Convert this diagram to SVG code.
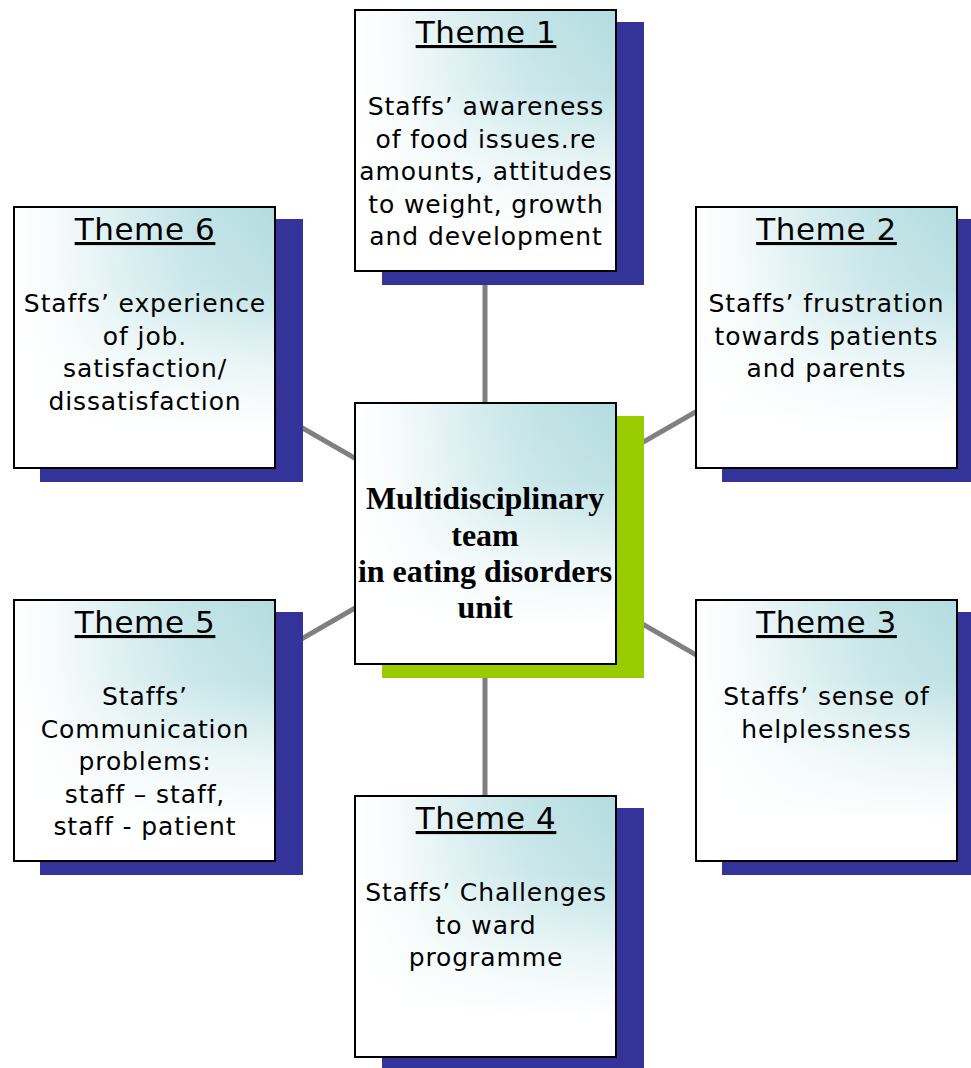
<svg xmlns="http://www.w3.org/2000/svg" width="971" height="1068" viewBox="0 0 971 1068">
<defs>
<linearGradient id="gh" x1="0" y1="0" x2="1" y2="0">
<stop offset="0" stop-color="#ffffff"/>
<stop offset="0.15" stop-color="#f7fbfc"/>
<stop offset="0.45" stop-color="#d6edef"/>
<stop offset="0.7" stop-color="#c1e3e6"/>
<stop offset="1" stop-color="#b3dce0"/>
</linearGradient>
<linearGradient id="gv" x1="0" y1="0" x2="0" y2="1">
<stop offset="0" stop-color="#ffffff" stop-opacity="0"/>
<stop offset="0.3" stop-color="#ffffff" stop-opacity="0.15"/>
<stop offset="0.6" stop-color="#ffffff" stop-opacity="0.7"/>
<stop offset="0.85" stop-color="#ffffff" stop-opacity="1"/>
<stop offset="1" stop-color="#ffffff" stop-opacity="1"/>
</linearGradient>
<style>
.sh{fill:#333399}
.gs{fill:#99cc00}
.f1{fill:url(#gh)}
.f2{fill:url(#gv)}
.bx{fill:none;stroke:#000;stroke-width:2}
.ti{font-family:"DejaVu Sans",Verdana,sans-serif;font-size:31px;letter-spacing:0.6px;text-anchor:middle;text-decoration:underline;fill:#000}
.bd{font-family:"DejaVu Sans",Verdana,sans-serif;font-size:25px;letter-spacing:0.9px;text-anchor:middle;fill:#000}
.ct{font-family:"Liberation Serif","Times New Roman",serif;font-size:32px;font-weight:bold;text-anchor:middle;fill:#000}
.cn{stroke:#808080;stroke-width:5;fill:none}
</style>
</defs>
<g id="connectors">
<line class="cn" x1="485" y1="271" x2="485" y2="402"/>
<line class="cn" x1="485" y1="664" x2="485" y2="795"/>
<line class="cn" x1="144" y1="337" x2="485" y2="533"/>
<line class="cn" x1="144" y1="730" x2="485" y2="533"/>
<line class="cn" x1="826" y1="337" x2="485" y2="533"/>
<line class="cn" x1="826" y1="730" x2="485" y2="533"/>
</g>
<g id="theme1">
<rect class="sh" x="382" y="22" width="262" height="263"/>
<rect class="f1" x="355" y="10" width="261" height="261"/>
<rect class="f2" x="355" y="10" width="261" height="261"/>
<rect class="bx" x="355" y="10" width="261" height="261"/>
<text class="ti" x="486" y="43">Theme 1</text>
<text class="bd" x="486" y="115">Staffs’ awareness</text>
<text class="bd" x="486" y="147.5">of food issues.re</text>
<text class="bd" x="486" y="180">amounts, attitudes</text>
<text class="bd" x="486" y="212.5">to weight, growth</text>
<text class="bd" x="486" y="245">and development</text>
</g>
<g id="theme6">
<rect class="sh" x="40" y="219" width="263" height="263"/>
<rect class="f1" x="14" y="207" width="261" height="261"/>
<rect class="f2" x="14" y="207" width="261" height="261"/>
<rect class="bx" x="14" y="207" width="261" height="261"/>
<text class="ti" x="145" y="240">Theme 6</text>
<text class="bd" x="145" y="312">Staffs’ experience</text>
<text class="bd" x="145" y="344.5">of job.</text>
<text class="bd" x="145" y="377">satisfaction/</text>
<text class="bd" x="145" y="409.5">dissatisfaction</text>
</g>
<g id="theme2">
<rect class="sh" x="722" y="219" width="263" height="263"/>
<rect class="f1" x="696" y="207" width="261" height="261"/>
<rect class="f2" x="696" y="207" width="261" height="261"/>
<rect class="bx" x="696" y="207" width="261" height="261"/>
<text class="ti" x="826.5" y="240">Theme 2</text>
<text class="bd" x="826.5" y="312">Staffs’ frustration</text>
<text class="bd" x="826.5" y="344.5">towards patients</text>
<text class="bd" x="826.5" y="377">and parents</text>
</g>
<g id="center">
<rect class="gs" x="382" y="416" width="262" height="262"/>
<rect class="f1" x="355" y="403" width="261" height="261"/>
<rect class="f2" x="355" y="403" width="261" height="261"/>
<rect class="bx" x="355" y="403" width="261" height="261"/>
<text class="ct" x="485" y="509">Multidisciplinary</text>
<text class="ct" x="485" y="546">team</text>
<text class="ct" x="485" y="582">in eating disorders</text>
<text class="ct" x="485" y="618">unit</text>
</g>
<g id="theme5">
<rect class="sh" x="40" y="612" width="263" height="263"/>
<rect class="f1" x="14" y="600" width="261" height="261"/>
<rect class="f2" x="14" y="600" width="261" height="261"/>
<rect class="bx" x="14" y="600" width="261" height="261"/>
<text class="ti" x="145" y="633">Theme 5</text>
<text class="bd" x="145" y="705">Staffs’</text>
<text class="bd" x="145" y="737.5">Communication</text>
<text class="bd" x="145" y="770">problems:</text>
<text class="bd" x="145" y="802.5">staff – staff,</text>
<text class="bd" x="145" y="835">staff - patient</text>
</g>
<g id="theme3">
<rect class="sh" x="722" y="612" width="263" height="263"/>
<rect class="f1" x="696" y="600" width="261" height="261"/>
<rect class="f2" x="696" y="600" width="261" height="261"/>
<rect class="bx" x="696" y="600" width="261" height="261"/>
<text class="ti" x="826.5" y="633">Theme 3</text>
<text class="bd" x="826.5" y="705">Staffs’ sense of</text>
<text class="bd" x="826.5" y="737.5">helplessness</text>
</g>
<g id="theme4">
<rect class="sh" x="382" y="808" width="262" height="263"/>
<rect class="f1" x="355" y="796" width="261" height="261"/>
<rect class="f2" x="355" y="796" width="261" height="261"/>
<rect class="bx" x="355" y="796" width="261" height="261"/>
<text class="ti" x="486" y="829">Theme 4</text>
<text class="bd" x="486" y="901">Staffs’ Challenges</text>
<text class="bd" x="486" y="933.5">to ward</text>
<text class="bd" x="486" y="966">programme</text>
</g>
</svg>
